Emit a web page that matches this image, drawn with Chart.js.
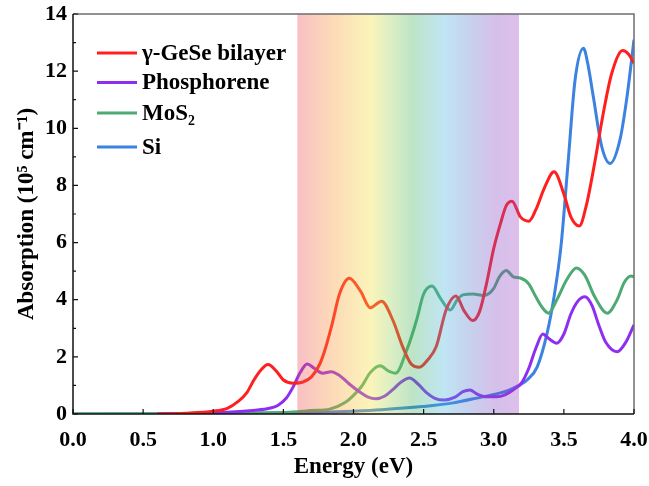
<!DOCTYPE html>
<html><head><meta charset="utf-8">
<script src="https://cdn.jsdelivr.net/npm/chart.js@4.4.1/dist/chart.umd.min.js"></script>
<style>html,body{margin:0;padding:0;background:#fff;}canvas{display:block;}</style>
</head><body>
<canvas id="c" width="649" height="486"></canvas>
<script>
// ---- data ----
const seriesNames = ['γ-GeSe bilayer', 'Phosphorene', 'MoS₂', 'Si'];

const geseE = [0.6,0.8,1.0,1.1,1.18,1.24,1.29,1.34,1.39,1.45,1.5,1.57,1.64,1.7,1.76,1.8,1.85,1.9,1.97,2.05,2.12,2.2,2.28,2.35,2.41,2.47,2.53,2.59,2.66,2.73,2.79,2.85,2.9,2.95,3.0,3.05,3.09,3.13,3.19,3.25,3.3,3.36,3.43,3.5,3.55,3.61,3.66,3.72,3.78,3.84,3.92,3.96,4.0];
const geseA = [0,0.03,0.1,0.2,0.45,0.75,1.19,1.54,1.73,1.5,1.19,1.08,1.12,1.3,1.75,2.3,3.2,4.2,4.75,4.3,3.72,3.95,3.29,2.36,1.76,1.64,1.9,2.36,3.64,4.13,3.6,3.27,3.6,4.6,5.8,6.7,7.3,7.45,6.9,6.75,7.15,7.9,8.48,7.7,6.9,6.58,7.3,8.8,10.5,11.9,12.72,12.6,12.28];

const phosE = [0.6,0.9,1.1,1.3,1.4,1.46,1.52,1.57,1.62,1.67,1.72,1.78,1.84,1.9,1.97,2.05,2.1,2.16,2.22,2.28,2.34,2.4,2.46,2.52,2.58,2.65,2.72,2.78,2.83,2.88,2.95,3.02,3.08,3.14,3.2,3.25,3.3,3.35,3.39,3.45,3.5,3.55,3.6,3.65,3.7,3.75,3.8,3.88,3.94,4.0];
const phosA = [0,0.03,0.06,0.13,0.2,0.3,0.55,0.95,1.45,1.75,1.6,1.43,1.48,1.35,1.05,0.75,0.6,0.53,0.62,0.85,1.12,1.26,1.05,0.75,0.55,0.49,0.58,0.78,0.84,0.7,0.6,0.6,0.67,0.85,1.1,1.6,2.3,2.8,2.65,2.48,2.8,3.5,3.95,4.1,3.8,3.1,2.5,2.18,2.5,3.12];

const mos2E = [0,0.5,1.0,1.3,1.5,1.6,1.7,1.83,1.94,2.0,2.06,2.12,2.19,2.25,2.3,2.38,2.45,2.5,2.56,2.62,2.69,2.74,2.78,2.85,2.93,3.0,3.04,3.09,3.14,3.19,3.25,3.3,3.35,3.39,3.45,3.52,3.59,3.65,3.72,3.81,3.88,3.93,3.98,4.0];
const mos2A = [0.01,0.01,0.02,0.03,0.05,0.08,0.12,0.17,0.4,0.65,0.98,1.45,1.69,1.5,1.43,2.24,3.29,4.2,4.48,4.05,3.64,4.0,4.17,4.2,4.15,4.4,4.8,5.02,4.8,4.76,4.55,4.1,3.7,3.53,4.0,4.7,5.11,4.85,4.1,3.53,4.0,4.6,4.83,4.8];

const siE = [0,0.5,1.0,1.5,1.83,2.0,2.2,2.49,2.7,2.92,3.0,3.1,3.18,3.24,3.31,3.38,3.43,3.48,3.53,3.58,3.64,3.67,3.71,3.77,3.83,3.9,3.95,4.0];
const siA = [0,0.005,0.015,0.04,0.07,0.1,0.15,0.26,0.38,0.6,0.68,0.82,1.0,1.2,1.65,2.82,4.1,5.9,8.8,11.7,12.8,12.27,11.1,9.36,8.77,9.6,11.1,13.1];

const xTicks = [0,0.5,1.0,1.5,2.0,2.5,3.0,3.5,4.0];
const yTicks = [0,2,4,6,8,10,12,14];
const bandRange = [1.6, 3.18];

// ---- styles ----
const colors = ['#ff1f1f', '#8e2ef0', '#4daa74', '#3c82e1'];
const FONT = 'Liberation Serif';

function pts(E, A){ return E.map((e,i)=>({x:e, y:A[i]})); }

const datasets = [
  {label: seriesNames[0], data: pts(geseE, geseA)},
  {label: seriesNames[1], data: pts(phosE, phosA)},
  {label: seriesNames[2], data: pts(mos2E, mos2A)},
  {label: seriesNames[3], data: pts(siE, siA)}
].map((d,i)=>Object.assign(d,{borderColor: colors[i], backgroundColor: colors[i], borderWidth: 3, pointRadius: 0, cubicInterpolationMode: 'monotone', fill: false}));

const decor = {
  id: 'decor',
  afterDatasetsDraw(chart){
    const {ctx, chartArea: a, scales:{x, y}} = chart;
    const x0 = x.getPixelForValue(bandRange[0]), x1 = x.getPixelForValue(bandRange[1]);
    const g = ctx.createLinearGradient(x0, 0, x1, 0);
    const stops = [
      [0.00, [235,75,86]],
      [0.15, [249,144,52]],
      [0.33, [244,224,55]],
      [0.42, [155,209,86]],
      [0.52, [66,178,92]],
      [0.66, [72,181,221]],
      [0.77, [92,127,206]],
      [0.89, [135,75,195]],
      [1.00, [155,72,195]]
    ];
    stops.forEach(([o,c])=>g.addColorStop(o, `rgba(${c[0]},${c[1]},${c[2]},0.35)`));
    ctx.save();
    ctx.fillStyle = g;
    ctx.fillRect(x0, a.top, x1 - x0, a.bottom - a.top);
    ctx.lineWidth = 1.5;
    ctx.strokeStyle = '#6e6e6e';
    ctx.beginPath();
    ctx.moveTo(a.left, a.top); ctx.lineTo(a.right, a.top); ctx.lineTo(a.right, a.bottom);
    ctx.stroke();
    ctx.strokeStyle = '#111';
    ctx.beginPath();
    ctx.moveTo(a.left, a.top); ctx.lineTo(a.left, a.bottom); ctx.lineTo(a.right, a.bottom);
    ctx.stroke();
    ctx.lineWidth = 1.2;
    ctx.beginPath();
    xTicks.forEach(v=>{ const px = x.getPixelForValue(v); ctx.moveTo(px, a.bottom); ctx.lineTo(px, a.bottom - 5); });
    for (let v = 0; v <= 14; v++){
      const py = y.getPixelForValue(v); const L = (v % 2 === 0) ? 5 : 3;
      ctx.moveTo(a.left, py); ctx.lineTo(a.left + L, py);
    }
    ctx.stroke();
    ctx.restore();
  },
  afterDraw(chart){
    const {ctx} = chart;
    const rows = [53, 82.5, 113, 147];
    ctx.save();
    ctx.font = `bold 23px "${FONT}"`;
    ctx.textBaseline = 'middle';
    ctx.textAlign = 'left';
    chart.data.datasets.forEach((d,i)=>{
      const yy = rows[i];
      ctx.strokeStyle = d.borderColor; ctx.lineWidth = 3;
      ctx.beginPath(); ctx.moveTo(97, yy); ctx.lineTo(137, yy); ctx.stroke();
      ctx.fillStyle = '#000';
      ctx.fillText(d.label, 142, yy + 1);
    });
    ctx.restore();
  }
};

new Chart(document.getElementById('c'), {
  type: 'line',
  data: {datasets},
  plugins: [decor],
  options: {
    responsive: false, animation: false, devicePixelRatio: 1,
    layout: {padding: {top: 14, right: 15, left: 0, bottom: 0}},
    plugins: {legend: {display: false}, tooltip: {enabled: false}},
    scales: {
      x: {
        type: 'linear', min: 0, max: 4,
        afterFit(s){ s.height = 72; s.paddingLeft = 0; s.paddingRight = 0; },
        afterBuildTicks(s){ s.ticks = xTicks.map(v=>({value: v})); },
        grid: {display: false, drawTicks: false},
        border: {display: false},
        ticks: {padding: 13, color: '#000', maxRotation: 0, autoSkip: false,
                callback: v => Number(v).toFixed(1),
                font: {family: FONT, weight: 'bold', size: 22}},
        title: {display: true, text: 'Energy (eV)', color: '#000',
                font: {family: FONT, weight: 'bold', size: 23}, padding: {top: 0, bottom: 5}}
      },
      y: {
        type: 'linear', min: 0, max: 14,
        afterFit(s){ s.width = 73; s.paddingTop = 0; s.paddingBottom = 0; },
        afterBuildTicks(s){ s.ticks = yTicks.map(v=>({value: v})); },
        grid: {display: false, drawTicks: false},
        border: {display: false},
        ticks: {padding: 6, color: '#000',
                font: {family: FONT, weight: 'bold', size: 22}},
        title: {display: true, text: 'Absorption (10⁵ cm⁻¹)', color: '#000',
                font: {family: FONT, weight: 'bold', size: 23}, padding: {top: 13, bottom: 0}}
      }
    }
  }
});
</script>
</body></html>
